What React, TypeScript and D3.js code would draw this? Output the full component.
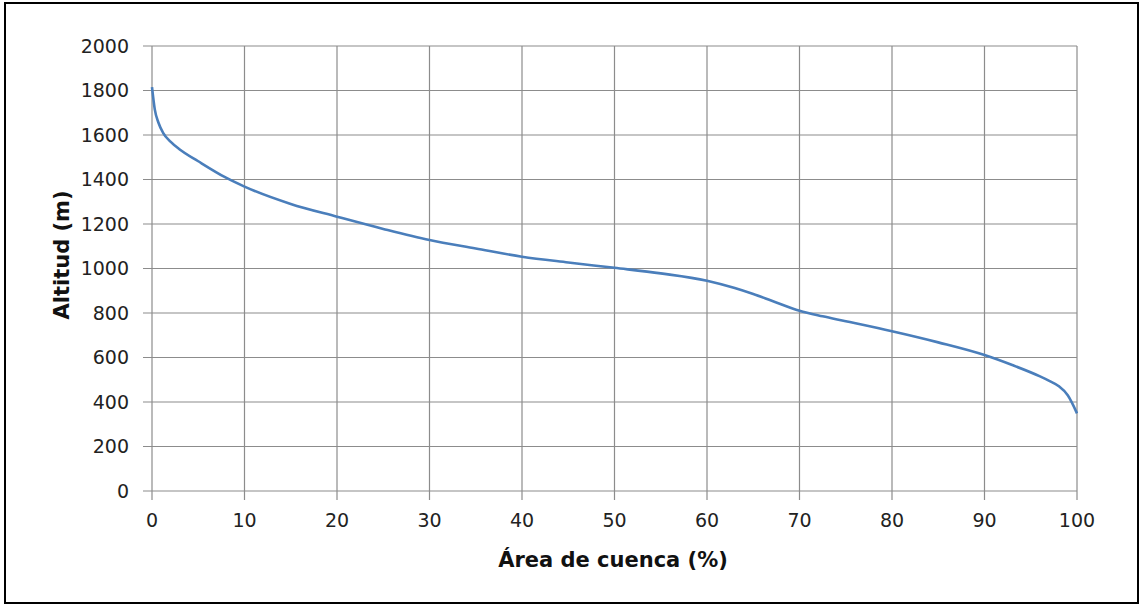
import React from "react";
import * as d3 from "d3";

const areaPct: number[] = [0, 0.3, 0.7, 1.2, 2, 3, 5, 8, 10, 15, 20, 25, 30, 35, 40, 45, 50, 55, 60, 63, 65, 67, 70, 72.5, 75, 80, 85, 90, 93, 96, 97, 98, 99, 100];
const altitude: number[] = [1815, 1715, 1655, 1610, 1570, 1535, 1482, 1408, 1368, 1290, 1233, 1178, 1128, 1090, 1053, 1027, 1003, 978, 945, 912, 885, 855, 810, 785, 763, 718, 668, 611, 566, 515, 495, 472, 430, 349];
const xTicks: number[] = [0, 10, 20, 30, 40, 50, 60, 70, 80, 90, 100];
const yTicks: number[] = [0, 200, 400, 600, 800, 1000, 1200, 1400, 1600, 1800, 2000];
const xTitle = "Área de cuenca (%)";
const yTitle = "Altitud (m)";

export default function App() {
  const W = 1142, H = 606;
  const x = d3.scaleLinear().domain([0, 100]).range([152, 1077]);
  const y = d3.scaleLinear().domain([0, 2000]).range([491, 46]);
  const pts = areaPct.map((a, i) => [a, altitude[i]] as [number, number]);
  const line = d3.line<[number, number]>().x(d => x(d[0])).y(d => y(d[1])).curve(d3.curveMonotoneX);
  const grid = "#8c8c8c";
  const font = "'DejaVu Sans', Verdana, sans-serif";
  return (
    <svg width={W} height={H} style={{ position: "absolute", left: 0, top: 0, background: "#fff" }}>
      <rect x={5} y={3} width={1133} height={600} fill="#fff" stroke="#000" strokeWidth={2} />
      {yTicks.map(t => (
        <line key={"gy" + t} x1={143} x2={x(100)} y1={y(t)} y2={y(t)} stroke={grid} strokeWidth={1.2} />
      ))}
      {xTicks.map(t => (
        <line key={"gx" + t} x1={x(t)} x2={x(t)} y1={y(2000)} y2={500} stroke={grid} strokeWidth={1.2} />
      ))}
      {yTicks.map(t => (
        <text key={"ty" + t} x={129} y={y(t)} dy="0.36em" textAnchor="end" fontFamily={font} fontSize={19} fill="#222">{t}</text>
      ))}
      {xTicks.map(t => (
        <text key={"tx" + t} x={x(t)} y={527} textAnchor="middle" fontFamily={font} fontSize={19} fill="#222">{t}</text>
      ))}
      <path d={line(pts) || ""} fill="none" stroke="#4a7ebb" strokeWidth={2.6} />
      <text x={613} y={567} textAnchor="middle" fontFamily={font} fontWeight="bold" fontSize={21} fill="#111">{xTitle}</text>
      <text transform="translate(69,255) rotate(-90)" textAnchor="middle" fontFamily={font} fontWeight="bold" fontSize={21} fill="#111">{yTitle}</text>
    </svg>
  );
}
